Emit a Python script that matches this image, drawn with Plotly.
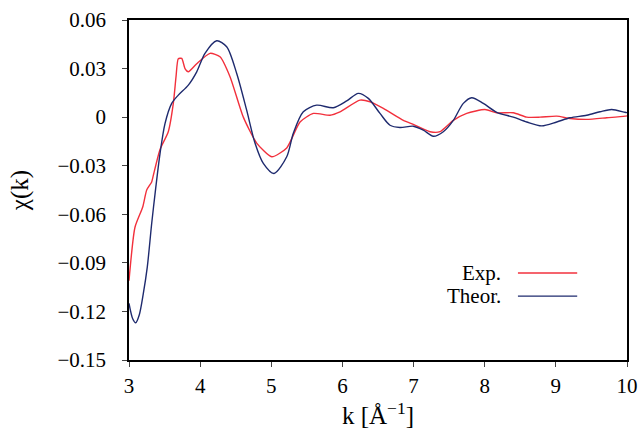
import plotly.graph_objects as go

# Experimental chi(k)
exp_k = [3.000, 3.084, 3.193, 3.249, 3.319, 3.342, 3.436, 3.552, 3.623, 3.661, 3.693, 3.741,
         3.787, 3.834, 3.952, 4.139, 4.279, 4.420, 4.607, 4.795, 5.006, 5.217, 5.404, 5.591,
         5.825, 5.966, 6.247, 6.388, 6.575, 6.856, 6.996, 7.231, 7.372, 7.559, 7.747, 8.004,
         8.169, 8.402, 8.590, 8.777, 9.012, 9.199, 9.434, 9.715, 9.972, 10.0]
exp_chi = [-0.101, -0.068, -0.0555, -0.045, -0.040, -0.036, -0.020, -0.009, 0.0085, 0.025, 0.036, 0.0363,
           0.030, 0.028, 0.033, 0.0394, 0.0373, 0.025, 0.0, -0.016, -0.0245, -0.019, -0.003, 0.0023,
           0.0012, 0.0033, 0.0105, 0.0095, 0.0054, -0.002, -0.0045, -0.009, -0.009, -0.002, 0.0023, 0.0047,
           0.0027, 0.0027, 0.0, 0.0, 0.0006, -0.0008, -0.0014, -0.0004, 0.0006, 0.0008]

# Theoretical chi(k)
theo_k = [3.000, 3.052, 3.094, 3.145, 3.201, 3.257, 3.319, 3.375, 3.436, 3.506, 3.600, 3.693,
          3.834, 3.952, 4.068, 4.233, 4.373, 4.514, 4.654, 4.771, 4.888, 5.038, 5.217, 5.310,
          5.450, 5.638, 5.872, 6.060, 6.223, 6.364, 6.528, 6.669, 6.809, 6.996, 7.137, 7.277,
          7.418, 7.559, 7.699, 7.817, 7.980, 8.169, 8.402, 8.590, 8.801, 9.012, 9.199, 9.434,
          9.621, 9.785, 9.972, 10.0]
theo_chi = [-0.115, -0.1245, -0.127, -0.122, -0.109, -0.0926, -0.0657, -0.044, -0.0225, -0.004, 0.0085, 0.0136,
            0.0198, 0.028, 0.0394, 0.0472, 0.0435, 0.027, 0.0043, -0.016, -0.0286, -0.0348, -0.0245, -0.010,
            0.0033, 0.0074, 0.0058, 0.010, 0.0147, 0.0116, 0.0023, -0.005, -0.0064, -0.0056, -0.008, -0.0118,
            -0.009, -0.002, 0.0085, 0.012, 0.0085, 0.003, 0.0, -0.003, -0.0054, -0.003, -0.0004, 0.0012,
            0.0033, 0.0047, 0.003, 0.0028]

x_ticks = [3, 4, 5, 6, 7, 8, 9, 10]
y_ticks = [0.06, 0.03, 0, -0.03, -0.06, -0.09, -0.12, -0.15]
y_ticktext = ["0.06", "0.03", "0", "\u22120.03", "\u22120.06", "\u22120.09", "\u22120.12", "\u22120.15"]

series_names = ["Exp.", "Theor."]
red = "#f2303c"
navy = "#1e2a6e"

fig = go.Figure()
fig.add_trace(go.Scatter(x=exp_k, y=exp_chi, mode="lines", name=series_names[0],
                         line=dict(color=red, width=1.4, shape="spline", smoothing=0.6)))
fig.add_trace(go.Scatter(x=theo_k, y=theo_chi, mode="lines", name=series_names[1],
                         line=dict(color=navy, width=1.4, shape="spline", smoothing=0.8)))

font = "'Liberation Serif', 'Times New Roman', serif"
fig.update_layout(
    width=642, height=435,
    margin=dict(l=129, r=15, t=20, b=75, autoexpand=False),
    paper_bgcolor="white", plot_bgcolor="white",
    showlegend=False,
    font=dict(family=font, size=21, color="black"),
    xaxis=dict(range=[3, 10], tickvals=x_ticks, ticks="outside", ticklen=5, tickwidth=1.2,
               showline=True, linecolor="black", linewidth=1.5, mirror=True, showgrid=False,
               zeroline=False, ticklabelstandoff=1,
               title=dict(text="k [Å<sup>\u22121</sup>]", standoff=6)),
    yaxis=dict(range=[-0.15, 0.06], tickvals=y_ticks, ticktext=y_ticktext, ticks="outside",
               ticklen=5, tickwidth=1.2, showline=True, linecolor="black", linewidth=1.5,
               mirror=True, showgrid=False, zeroline=False, ticklabelstandoff=12,
               title=dict(text="\u03c7(k)", standoff=22)),
)

# Legend drawn as text with line sample to its right
legend_rows = [(0.256, series_names[0], red), (0.188, series_names[1], navy)]
for yy, label, col in legend_rows:
    fig.add_annotation(xref="paper", yref="paper", x=0.751, y=yy, text=label, showarrow=False,
                       xanchor="right", yanchor="middle", font=dict(family=font, size=21))
    fig.add_shape(type="line", xref="paper", yref="paper", x0=0.781, x1=0.900, y0=yy, y1=yy,
                  line=dict(color=col, width=1.4))

fig.write_html("out.html")
